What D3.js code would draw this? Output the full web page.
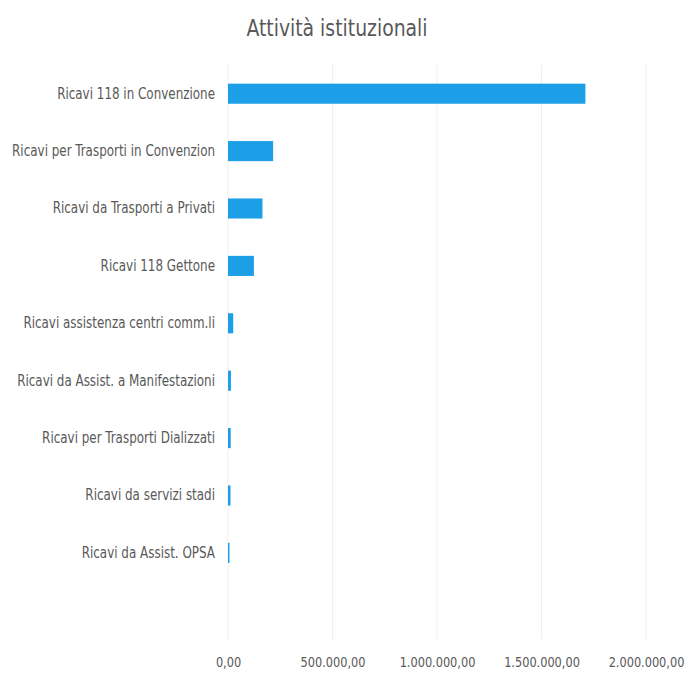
<!DOCTYPE html>
<html>
<head>
<meta charset="utf-8">
<script src="https://cdn.jsdelivr.net/npm/d3@7"></script>
<style>
  html, body { margin: 0; padding: 0; background: #fff; }
  svg { display: block; }
</style>
</head>
<body>
<svg id="chart" width="688" height="689"></svg>
<script>
// Revenue items (euro), top to bottom; the trailing blank keeps an empty row at the bottom
const categories = [
  "Ricavi 118 in Convenzione",
  "Ricavi per Trasporti in Convenzion",
  "Ricavi da Trasporti a Privati",
  "Ricavi 118 Gettone",
  "Ricavi assistenza centri comm.li",
  "Ricavi da Assist. a Manifestazioni",
  "Ricavi per Trasporti Dializzati",
  "Ricavi da servizi stadi",
  "Ricavi da Assist. OPSA",
  ""
];
const values = [1710000, 216000, 165000, 124000, 25000, 14000, 13000, 12000, 7000, null];
const xTicks = [0, 500000, 1000000, 1500000, 2000000];
const title = "Attività istituzionali";

const svg = d3.select("#chart");
const font = "'DejaVu Sans Condensed', 'Liberation Sans Narrow', sans-serif";
const textColor = "#595959";
const squeeze = 0.87;      // horizontal condensing of the value labels
const labelSqueeze = 0.885; // horizontal condensing of the category labels

const margin = { top: 65, left: 228, right: 42, bottom: 50 };
const plotW = 646 - 228;
const plotH = 574;

const x = d3.scaleLinear().domain([0, 2000000]).range([0, plotW]);
const y = d3.scaleBand().domain(categories.map((c, i) => i)).range([0, plotH]).paddingInner(0.65).paddingOuter(0.325);

const it = d3.formatLocale({ decimal: ",", thousands: ".", grouping: [3], currency: ["€", ""] });
const fmt = it.format(",.2f");

const g = svg.append("g").attr("transform", `translate(${margin.left},${margin.top})`);

// vertical gridlines
g.append("g")
  .selectAll("line")
  .data(xTicks)
  .join("line")
  .attr("x1", d => x(d)).attr("x2", d => x(d))
  .attr("y1", 0).attr("y2", plotH)
  .attr("stroke", "#efefef")
  .attr("stroke-width", 1);

// bars
g.append("g")
  .selectAll("rect")
  .data(values.map((v, i) => ({ v, i })).filter(d => d.v != null))
  .join("rect")
  .attr("x", x(0))
  .attr("y", d => y(d.i))
  .attr("width", d => Math.max(1.5, x(d.v) - x(0)))
  .attr("height", y.bandwidth())
  .attr("fill", "#1c9fe6");

// category axis
const yAxis = d3.axisLeft(y).tickSize(0).tickPadding(13).tickFormat(i => categories[i]);
const ya = g.append("g").call(yAxis);
ya.select(".domain").remove();
ya.selectAll("text")
  .attr("font-family", font)
  .attr("font-size", 15)
  .attr("fill", textColor)
  .attr("x", -13 / labelSqueeze)
  .attr("transform", `scale(${labelSqueeze},1)`);

// value axis
const xAxis = d3.axisBottom(x).tickValues(xTicks).tickSize(0).tickPadding(0).tickFormat(fmt);
const xa = g.append("g").attr("transform", `translate(0,${plotH + 18})`).call(xAxis);
xa.select(".domain").remove();
xa.selectAll("text")
  .attr("font-family", font)
  .attr("font-size", 14.5)
  .attr("fill", textColor)
  .attr("transform", `scale(${squeeze},1)`);

// title
svg.append("text")
  .attr("transform", `translate(337,36) scale(0.91,1)`)
  .attr("text-anchor", "middle")
  .attr("font-family", font)
  .attr("font-size", 23)
  .attr("fill", textColor)
  .text(title);
</script>
</body>
</html>
